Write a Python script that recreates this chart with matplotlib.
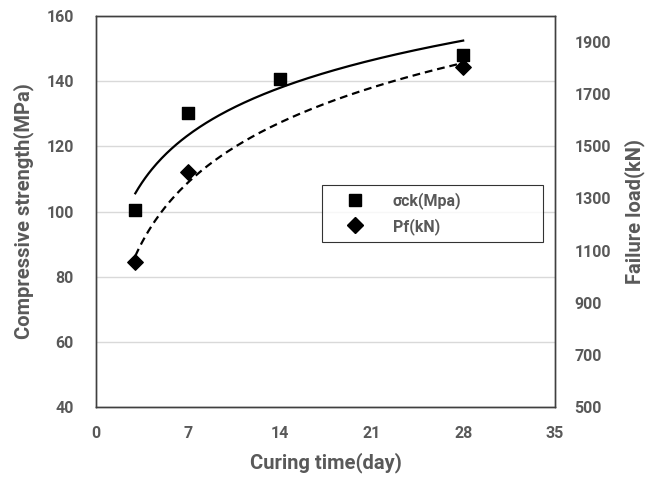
import numpy as np
import matplotlib
matplotlib.use("Agg")
import matplotlib.pyplot as plt
from matplotlib.lines import Line2D

plt.rcParams['font.family'] = ['Roboto', 'DejaVu Sans']
plt.rcParams['font.weight'] = 'bold'

# data
days_sigma = [3, 7, 14, 28]
sigma_ck = [100.5, 130.2, 140.6, 148.0]      # MPa
days_pf = [3, 7, 28]
pf = [1055, 1400, 1805]                       # kN

grey = '#595959'

fig = plt.figure(figsize=(6.45, 4.79), dpi=100)
ax = fig.add_axes([0.1488, 0.1503, 0.7116, 0.8163])
ax2 = ax.twinx()

# log trendlines (Excel style)
def log_fit(x, y):
    a, b = np.polyfit(np.log(x), y, 1)
    xx = np.linspace(min(x), max(x), 200)
    return xx, a * np.log(xx) + b

xs, ys = log_fit(days_sigma, sigma_ck)
xp, yp = log_fit(days_pf, pf)

ax.plot(xs, ys, color='k', lw=1.6, zorder=3)
ax.scatter(days_sigma, sigma_ck, marker='s', s=75, color='k', zorder=4)

ax2.plot(xp, yp, color='k', lw=1.6, ls=(0, (3.5, 2.2)), zorder=3)
ax2.scatter(days_pf, pf, marker='D', s=62, color='k', zorder=4)

ax.set_xlim(0, 35)
ax.set_xticks([0, 7, 14, 21, 28, 35])
ax.set_ylim(40, 160)
ax.set_yticks(range(40, 161, 20))
ax2.set_ylim(500, 2000)
ax2.set_yticks(range(500, 2000, 200))

ax.grid(axis='y', color='#d9d9d9', lw=1)
ax.set_axisbelow(True)

for a in (ax, ax2):
    a.tick_params(length=0, labelsize=11.5, labelcolor=grey)
    for s in a.spines.values():
        s.set_color('#404040')
        s.set_linewidth(1.0)
for lbl in ax.get_xticklabels() + ax.get_yticklabels() + ax2.get_yticklabels():
    lbl.set_fontweight('bold')
ax.tick_params(axis='x', pad=14)
ax.tick_params(axis='y', pad=16)
ax2.tick_params(axis='y', pad=14)

ax.set_xlabel('Curing time(day)', fontsize=14.5, color=grey, fontweight='bold', labelpad=8)
ax.set_ylabel('Compressive strength(MPa)', fontsize=14.5, color=grey, fontweight='bold', labelpad=9)
ax2.set_ylabel('Failure load(kN)', fontsize=14.5, color=grey, fontweight='bold', labelpad=10)

handles = [Line2D([], [], marker='s', ls='none', color='k', markersize=9),
           Line2D([], [], marker='D', ls='none', color='k', markersize=8)]
leg = ax2.legend(handles, ['σck(Mpa)', 'Pf(kN)'], loc='upper left',
                 bbox_to_anchor=(0.492, 0.568 - 0.146, 0.481, 0.146), mode='expand',
                 frameon=True, fancybox=False, borderaxespad=0,
                 edgecolor='k', handletextpad=0.8,
                 prop={'size': 11.5, 'weight': 'bold'},
                 borderpad=0.45, labelspacing=0.55, handlelength=3.2)
leg.get_frame().set_linewidth(0.8)
for t in leg.get_texts():
    t.set_color(grey)

fig.savefig('out.png', dpi=100)
